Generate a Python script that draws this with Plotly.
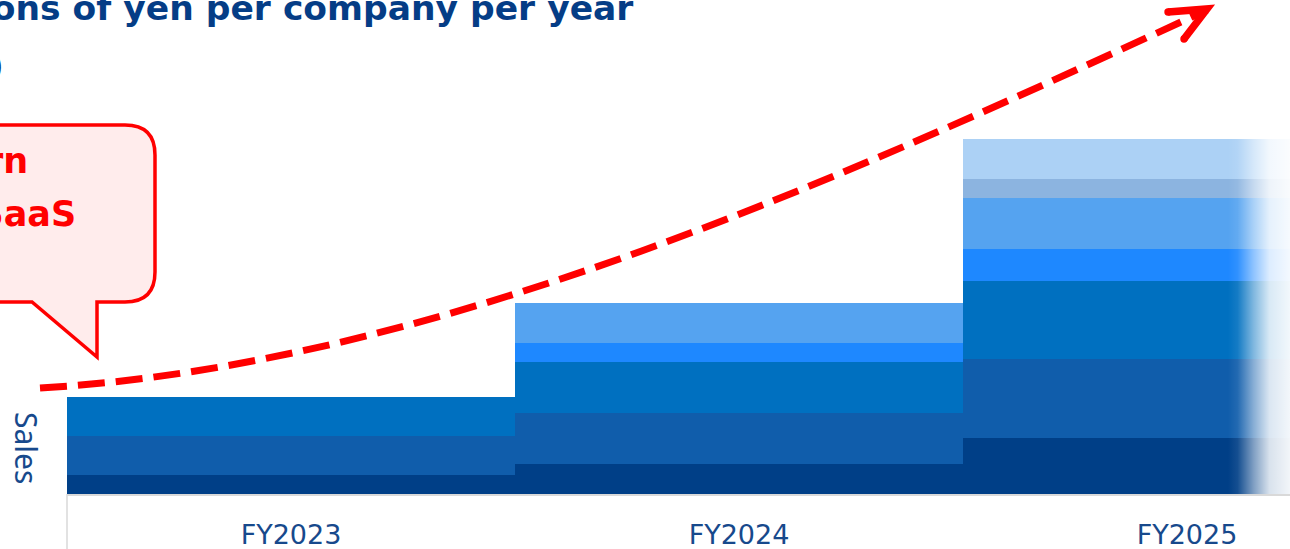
import plotly.graph_objects as go

# ---------------- data ----------------
categories = ["FY2023", "FY2024", "FY2025"]
layer1 = [19, 30, 56]
layer2 = [39, 51, 79]
layer3 = [39, 51, 78]
layer4 = [None, 19, 32]
layer5 = [None, 40, 51]
layer6 = [None, None, 19]
layer7 = [None, None, 40]
layers = [layer1, layer2, layer3, layer4, layer5, layer6, layer7]
layer_colors = ["#003F87", "#105DAB", "#0070C0", "#1E88FF", "#55A3F0", "#8CB4E0", "#ACD1F5"]

title_text = "Average sales: Millions of yen per company per year"
subtitle_text = "(Image)"
callout_lines = ["Growth pattern", "of vertical SaaS"]
y_title = "Sales"

# ---------------- geometry helpers ----------------
W, H = 1290, 549
ML, MR, MT, MB = 67, 0, 0, 55
PW, PH = W - ML - MR, H - MT - MB


def px(x, y):
    """pixel -> paper coordinates"""
    return (x - ML) / PW, (H - MB - y) / PH


def path(cmds):
    out = []
    for c in cmds:
        if isinstance(c, str):
            out.append(c)
        else:
            X, Y = px(*c)
            out.append(f"{X:.5f},{Y:.5f}")
    return " ".join(out)


fig = go.Figure()
for vals, col in zip(layers, layer_colors):
    fig.add_trace(go.Bar(x=categories, y=vals, marker=dict(color=col, line=dict(width=0)),
                         showlegend=False, hoverinfo="skip"))

# fade-to-white overlay on the right edge (overlay axes in paper units)
fx0, fy0 = px(1228, 498)
fx1, fy1 = px(W + 2, 120)
fig.add_trace(go.Scatter(
    x=[fx0, fx1, fx1, fx0, fx0], y=[fy0, fy0, fy1, fy1, fy0],
    xaxis="x2", yaxis="y2", mode="none", fill="toself",
    fillgradient=dict(type="horizontal", colorscale=[
        [0.0, "rgba(255,255,255,0)"], [0.15, "rgba(255,255,255,0.08)"],
        [0.4, "rgba(255,255,255,0.5)"], [0.65, "rgba(255,255,255,0.85)"],
        [1.0, "rgba(255,255,255,0.96)"]]),
    showlegend=False, hoverinfo="skip"))

shapes = []
# callout box
callout = path(["M", (-300, 125), "L", (125, 125), "Q", (155, 125), (155, 155),
                "L", (155, 272), "Q", (155, 302), (125, 302), "L", (97, 302),
                "L", (97, 357), "L", (32, 302), "L", (-300, 302), "Z"])
shapes.append(dict(type="path", xref="paper", yref="paper", path=callout,
                   fillcolor="#FFECEC", line=dict(color="#FF0000", width=3.5), layer="above"))

# dashed growth arrow
curve = path(["M", (40, 388), "C", (440, 365), (857, 171), (1207, 10)])
shapes.append(dict(type="path", xref="paper", yref="paper", path=curve,
                   line=dict(color="#FF0000", width=7, dash="27px,11px"), layer="above"))
head = path(["M", (1168, 12), "L", (1207, 9), "L", (1184, 39)])
shapes.append(dict(type="path", xref="paper", yref="paper", path=head,
                   line=dict(color="#FF0000", width=7.5), layer="above"))
for (cx_, cy_) in [(1168, 12), (1184, 39)]:
    a0, b0 = px(cx_ - 3.7, cy_ + 3.7)
    a1, b1 = px(cx_ + 3.7, cy_ - 3.7)
    shapes.append(dict(type="circle", xref="paper", yref="paper", x0=a0, x1=a1, y0=b0, y1=b1,
                       fillcolor="#FF0000", line=dict(width=0), layer="above"))

# left divider below axis
xa, ya = px(67, 494)
xb, yb = px(67, 549)
shapes.append(dict(type="line", xref="paper", yref="paper", x0=xa, x1=xb, y0=ya, y1=yb,
                   line=dict(color="#D9D9D9", width=1.5)))

annotations = []
tx, ty = px(634, 8)
annotations.append(dict(text=f"<b>{title_text}</b>", xref="paper", yref="paper", x=tx, y=ty,
                        xanchor="right", yanchor="middle", showarrow=False, borderpad=0,
                        font=dict(family="DejaVu Sans", size=34.5, color="#053D86")))
sx, sy = px(5, 66)
annotations.append(dict(text=f"<b>{subtitle_text}</b>", xref="paper", yref="paper", x=sx, y=sy,
                        xanchor="right", yanchor="middle", showarrow=False, borderpad=0,
                        font=dict(family="DejaVu Sans", size=34.5, color="#053D86")))
for line, (rx, cy_px) in zip(callout_lines, [(29, 161), (77, 214)]):
    cx, cy = px(rx, cy_px)
    annotations.append(dict(text=f"<b>{line}</b>", xref="paper", yref="paper", x=cx, y=cy,
                            xanchor="right", yanchor="middle", showarrow=False, borderpad=0,
                            font=dict(family="DejaVu Sans", size=35, color="#FF0000")))
gx, gy = px(27, 448)
annotations.append(dict(text=y_title, xref="paper", yref="paper", x=gx, y=gy, textangle=90,
                        xanchor="center", yanchor="middle", showarrow=False, borderpad=0,
                        font=dict(family="Noto Sans", size=30, color="#17498C")))

fig.update_layout(
    width=W, height=H, autosize=False,
    margin=dict(l=ML, r=MR, t=MT, b=MB, pad=0),
    barmode="stack", bargap=0,
    plot_bgcolor="white", paper_bgcolor="white",
    shapes=shapes, annotations=annotations,
    showlegend=False,
    xaxis2=dict(overlaying="x", range=[0, 1], visible=False, fixedrange=True),
    yaxis2=dict(overlaying="y", range=[0, 1], visible=False, fixedrange=True),
)
fig.layout.xaxis.update(type="category", range=[-0.5, -0.5 + PW / 448], showgrid=False,
                        zeroline=False, showline=True, linecolor="#D9D9D9", linewidth=2,
                        ticks="", layer="below traces", ticklabelstandoff=16,
                        tickfont=dict(family="DejaVu Sans", size=27, color="#17498C"),
                        fixedrange=True)
fig.layout.yaxis.update(range=[0, PH], visible=False, showgrid=False, zeroline=False,
                        fixedrange=True)

fig.write_html("out.html")
